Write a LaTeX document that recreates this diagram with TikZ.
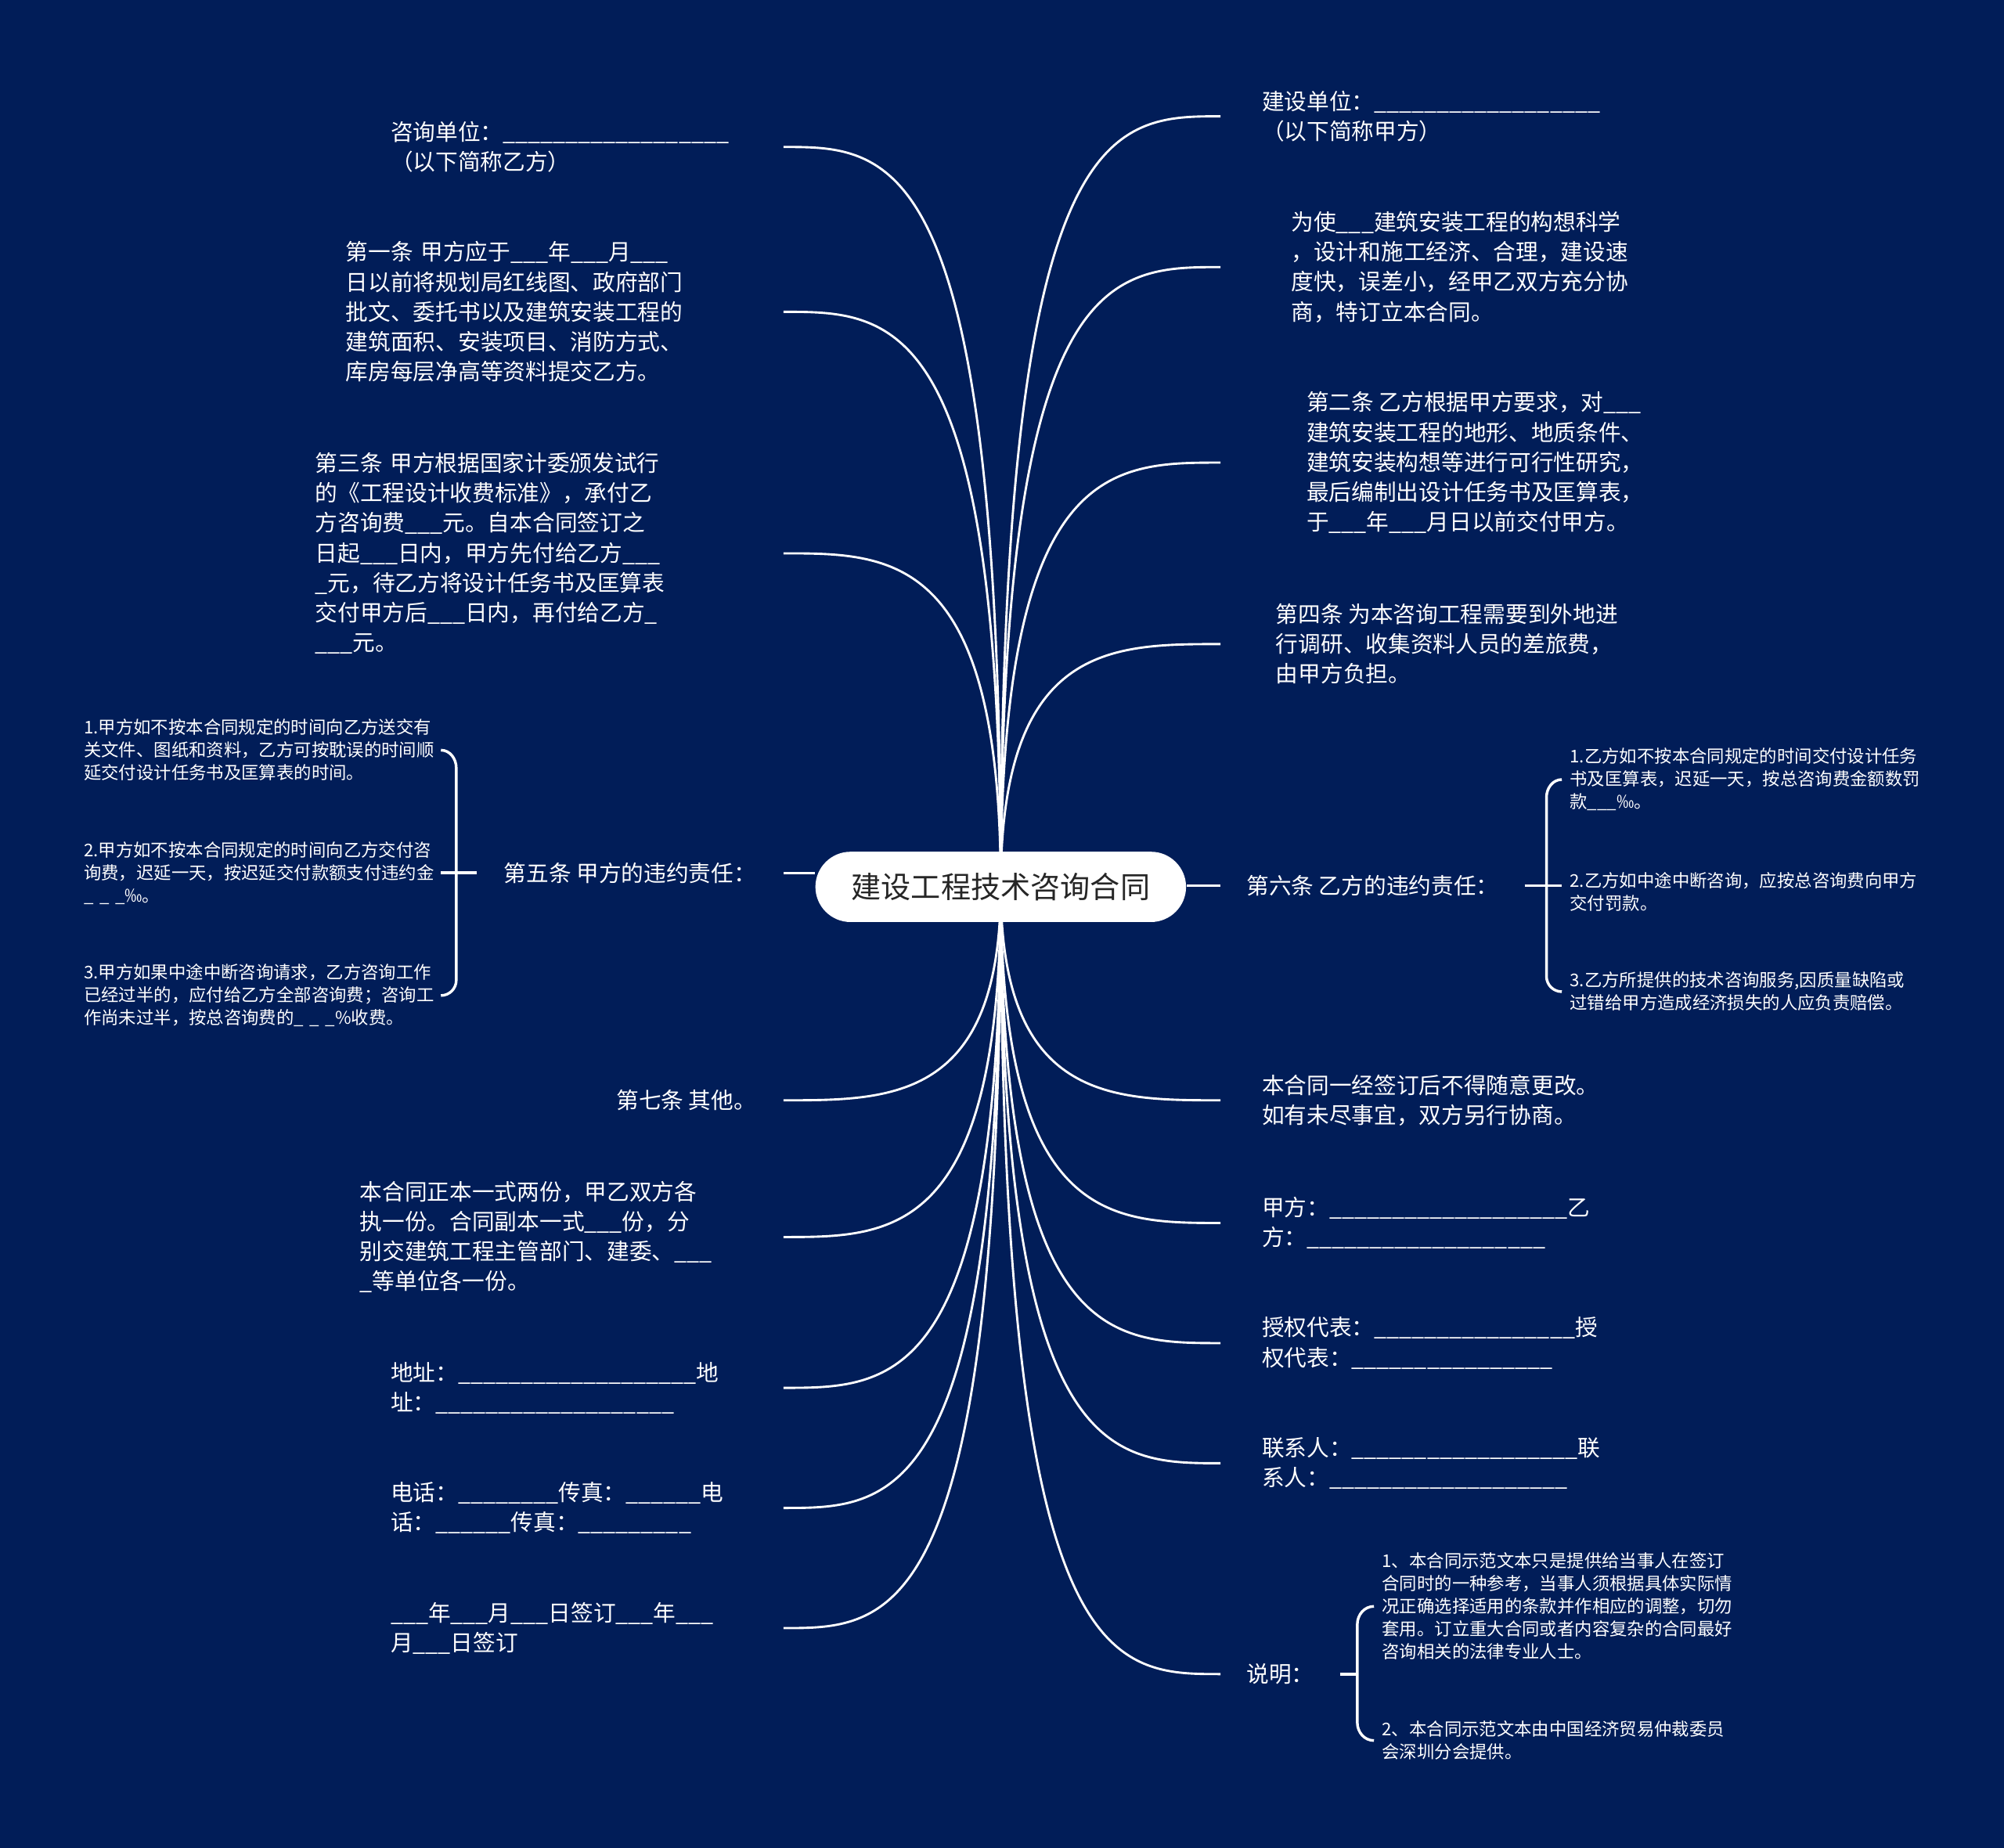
\documentclass[tikz,border=0pt]{standalone}
\usepackage{fontspec}
\setmainfont{Noto Sans CJK SC}
\usepackage{xcolor}
\definecolor{navy}{RGB}{1,29,88}
\usepackage{tikz}
\usetikzlibrary{calc}
\pgfdeclarelayer{canvas}
\pgfdeclarelayer{links}
\pgfsetlayers{canvas,links,main}
\newcommand\bodyfont{\fontsize{10pt}{13.3pt}\selectfont}
\newcommand\smallfont{\fontsize{7.8pt}{10.1pt}\selectfont}
\newcommand\topicfont{\fontsize{13.3pt}{16pt}\selectfont}

\begin{document}
\begin{tikzpicture}[
      x=0.2mm, y=-0.2mm,
      lleaf/.style={anchor=east, align=left, text width=#1, inner xsep=0pt,
                    inner ysep=0pt, font=\bodyfont, text=white},
      rleaf/.style={anchor=west, align=left, inner xsep=#1, inner ysep=0pt,
                    font=\bodyfont, text=white},
      lone/.style={anchor=east, inner xsep=4.2mm, inner ysep=0pt,
                   font=\bodyfont, text=white},
      lsmall/.style={lleaf=#1, font=\smallfont},
      rsmall/.style={rleaf=#1, font=\smallfont},
      topic/.style={fill=white, rounded corners=5.5mm, minimum width=58mm,
                    minimum height=11mm, font=\topicfont, text=black!85},
      twig/.style={draw=white, line width=1pt,
                   to path={.. controls (\tikztostart |- \tikztotarget)
                            and ($(\tikztostart |- \tikztotarget)!.5!(\tikztotarget)$)
                            .. (\tikztotarget)}},
      joint/.style={draw=white, line width=1pt},
      clamp/.style={draw=white, line width=1.2pt}
  ]
  \useasboundingbox (0,0) rectangle (1568,1446);
  \begin{pgfonlayer}{canvas}
    \fill[navy] (0,0) rectangle (1568,1446);
  \end{pgfonlayer}

  \node[topic] (topic) at (783,694) {建设工程技术咨询合同};

  % left side
  \node[lleaf=61.4mm] (unitB) at (613,115) {咨询单位：\_\_\_\_\_\_\_\_\_\_\_\_\_\_\_\_\_\_\\（以下简称乙方）};
  \node[lleaf=68.4mm] (art1) at (613,244) {第一条 甲方应于\_\_\_年\_\_\_月\_\_\_\\日以前将规划局红线图、政府部门\\批文、委托书以及建筑安装工程的\\建筑面积、安装项目、消防方式、\\库房每层净高等资料提交乙方。};
  \node[lleaf=73.2mm] (art3) at (613,433) {第三条 甲方根据国家计委颁发试行\\的《工程设计收费标准》，承付乙\\方咨询费\_\_\_元。自本合同签订之\\日起\_\_\_日内，甲方先付给乙方\_\_\_\\\_元，待乙方将设计任务书及匡算表\\交付甲方后\_\_\_日内，再付给乙方\_\\\_\_\_元。};
  \node[lone] (art5) at (613,683) {第五条 甲方的违约责任：};
  \node[lsmall=55.8mm] (art5a) at (345,587) {1.甲方如不按本合同规定的时间向乙方送交有\\关文件、图纸和资料，乙方可按耽误的时间顺\\延交付设计任务书及匡算表的时间。};
  \node[lsmall=55.8mm] (art5b) at (345,683) {2.甲方如不按本合同规定的时间向乙方交付咨\\询费，迟延一天，按迟延交付款额支付违约金\\\_ \_ \_‰。};
  \node[lsmall=55.8mm] (art5c) at (345,779) {3.甲方如果中途中断咨询请求，乙方咨询工作\\已经过半的，应付给乙方全部咨询费；咨询工\\作尚未过半，按总咨询费的\_ \_ \_\%收费。};
  \node[lone] (art7) at (613,861) {第七条 其他。};
  \node[lleaf=66.2mm] (copies) at (613,968) {本合同正本一式两份，甲乙双方各\\执一份。合同副本一式\_\_\_份，分\\别交建筑工程主管部门、建委、\_\_\_\\\_等单位各一份。};
  \node[lleaf=61.4mm] (addr) at (613,1086) {地址：\_\_\_\_\_\_\_\_\_\_\_\_\_\_\_\_\_\_\_地\\址：\_\_\_\_\_\_\_\_\_\_\_\_\_\_\_\_\_\_\_};
  \node[lleaf=61.4mm] (phone) at (613,1180) {电话：\_\_\_\_\_\_\_\_传真：\_\_\_\_\_\_电\\话：\_\_\_\_\_\_传真：\_\_\_\_\_\_\_\_\_};
  \node[lleaf=61.4mm] (date) at (613,1274) {\_\_\_年\_\_\_月\_\_\_日签订\_\_\_年\_\_\_\\月\_\_\_日签订};

  % right side
  \node[rleaf=6.4mm] (unitA) at (955,91) {建设单位：\_\_\_\_\_\_\_\_\_\_\_\_\_\_\_\_\_\_\\（以下简称甲方）};
  \node[rleaf=11mm] (purpose) at (955,209) {为使\_\_\_建筑安装工程的构想科学\\，设计和施工经济、合理，建设速\\度快，误差小，经甲乙双方充分协\\商，特订立本合同。};
  \node[rleaf=13.4mm] (art2) at (955,362) {第二条 乙方根据甲方要求，对\_\_\_\\建筑安装工程的地形、地质条件、\\建筑安装构想等进行可行性研究，\\最后编制出设计任务书及匡算表，\\于\_\_\_年\_\_\_月日以前交付甲方。};
  \node[rleaf=8.6mm] (art4) at (955,504) {第四条 为本咨询工程需要到外地进\\行调研、收集资料人员的差旅费，\\由甲方负担。};
  \node[rleaf=4mm] (art6) at (955,693) {第六条 乙方的违约责任：};
  \node[rsmall=1.2mm] (art6a) at (1222,610) {1.乙方如不按本合同规定的时间交付设计任务\\书及匡算表，迟延一天，按总咨询费金额数罚\\款\_\_\_‰。};
  \node[rsmall=1.2mm] (art6b) at (1222,698) {2.乙方如中途中断咨询，应按总咨询费向甲方\\交付罚款。};
  \node[rsmall=1.2mm] (art6c) at (1222,776) {3.乙方所提供的技术咨询服务,因质量缺陷或\\过错给甲方造成经济损失的人应负责赔偿。};
  \node[rleaf=6.4mm] (final) at (955,861) {本合同一经签订后不得随意更改。\\如有未尽事宜，双方另行协商。};
  \node[rleaf=6.4mm] (party) at (955,957) {甲方：\_\_\_\_\_\_\_\_\_\_\_\_\_\_\_\_\_\_\_乙\\方：\_\_\_\_\_\_\_\_\_\_\_\_\_\_\_\_\_\_\_};
  \node[rleaf=6.4mm] (rep) at (955,1051) {授权代表：\_\_\_\_\_\_\_\_\_\_\_\_\_\_\_\_授\\权代表：\_\_\_\_\_\_\_\_\_\_\_\_\_\_\_\_};
  \node[rleaf=6.4mm] (contact) at (955,1145) {联系人：\_\_\_\_\_\_\_\_\_\_\_\_\_\_\_\_\_\_联\\系人：\_\_\_\_\_\_\_\_\_\_\_\_\_\_\_\_\_\_\_};
  \node[rleaf=4mm] (note) at (955,1310) {说明：};
  \node[rsmall=1.2mm] (note1) at (1075,1257) {1、本合同示范文本只是提供给当事人在签订\\合同时的一种参考，当事人须根据具体实际情\\况正确选择适用的条款并作相应的调整，切勿\\套用。订立重大合同或者内容复杂的合同最好\\咨询相关的法律专业人士。};
  \node[rsmall=1.2mm] (note2) at (1075,1362) {2、本合同示范文本由中国经济贸易仲裁委员\\会深圳分会提供。};

  \coordinate (j5) at (357,683);
  \coordinate (j6) at (1210,693);
  \coordinate (jn) at (1062,1310);

  \begin{pgfonlayer}{links}
    \draw[twig] (topic.center) to (unitB.east);
    \draw[twig] (topic.center) to (art1.east);
    \draw[twig] (topic.center) to (art3.east);
    \draw[twig] (topic.center) to (art7.east);
    \draw[twig] (topic.center) to (copies.east);
    \draw[twig] (topic.center) to (addr.east);
    \draw[twig] (topic.center) to (phone.east);
    \draw[twig] (topic.center) to (date.east);
    \draw[twig] (topic.center) to (unitA.west);
    \draw[twig] (topic.center) to (purpose.west);
    \draw[twig] (topic.center) to (art2.west);
    \draw[twig] (topic.center) to (art4.west);
    \draw[twig] (topic.center) to (final.west);
    \draw[twig] (topic.center) to (party.west);
    \draw[twig] (topic.center) to (rep.west);
    \draw[twig] (topic.center) to (contact.west);
    \draw[twig] (topic.center) to (note.west);
    \draw[joint] (art5.east) -- (art5.east -| topic.west);
    \draw[joint] (art6.west) -- (art6.west -| topic.east);
  \end{pgfonlayer}

  \draw[clamp] (art5.west) -- (art5.west -| art5b.east);
  \draw[clamp] (art5a.east) to[out=0,in=90] ++(12,14) |- (j5);
  \draw[clamp] (art5c.east) to[out=0,in=-90] ++(12,-12) |- (j5);
  \draw[clamp] (art6.east) -- (art6.east -| art6b.west);
  \draw[clamp] (art6a.west) to[out=180,in=90] ++(-12,14) |- (j6);
  \draw[clamp] (art6c.west) to[out=180,in=-90] ++(-12,-12) |- (j6);
  \draw[clamp] (note.east) -- (jn);
  \draw[clamp] (note1.west) to[out=180,in=90] ++(-13,14) |- (jn);
  \draw[clamp] (note2.west) to[out=180,in=-90] ++(-13,-14) |- (jn);
\end{tikzpicture}
\end{document}
